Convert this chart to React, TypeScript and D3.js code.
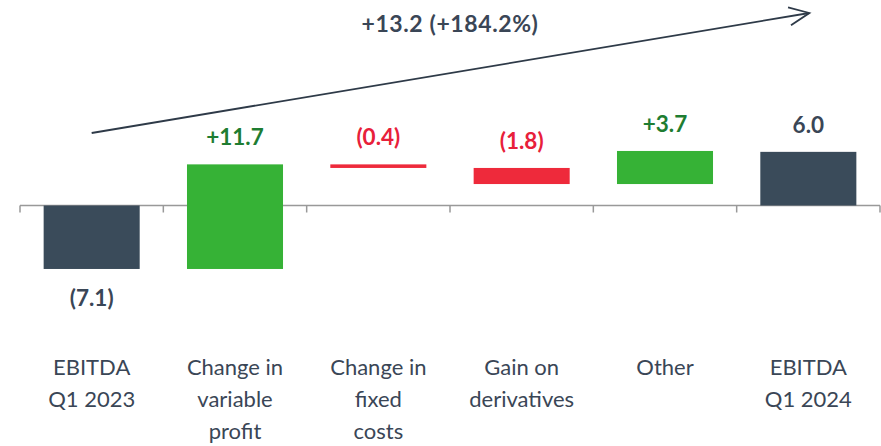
import React from "react";
import * as d3 from "d3";

const categories: string[][] = [
  ["EBITDA", "Q1 2023"],
  ["Change in", "variable", "profit"],
  ["Change in", "fixed", "costs"],
  ["Gain on", "derivatives"],
  ["Other"],
  ["EBITDA", "Q1 2024"],
];
const values: number[] = [-7.1, 11.7, -0.4, -1.8, 3.7, 6.0];
const kinds: string[] = ["total", "delta", "delta", "delta", "delta", "total"];
const valueLabels: string[] = ["(7.1)", "+11.7", "(0.4)", "(1.8)", "+3.7", "6.0"];
const changeLabel = "+13.2 (+184.2%)";

const W = 881;
const H = 446;
const DARK = "#3A4B5A";
const GREEN = "#36B236";
const RED = "#EE2A3B";
const GREEN_TXT = "#1E7D32";
const RED_TXT = "#E8203A";
const TXT = "#3A4656";
const FONT = "Lato, 'Open Sans', sans-serif";

export default function App() {
  const x = d3
    .scaleBand<number>()
    .domain(values.map((_, i) => i))
    .range([20, 880])
    .paddingInner(0.33)
    .paddingOuter(0.165);
  const y = d3
    .scaleLinear()
    .domain([-10, 15])
    .range([205.5 + 10 * 8.94, 205.5 - 15 * 8.94]);

  let cum = 0;
  const bars = values.map((v, i) => {
    let y0: number, y1: number;
    if (kinds[i] === "total") {
      y0 = 0;
      y1 = v;
      cum = v;
    } else {
      y0 = cum;
      y1 = cum + v;
      cum = y1;
    }
    const color = kinds[i] === "total" ? DARK : v >= 0 ? GREEN : RED;
    const txtColor = kinds[i] === "total" ? TXT : v >= 0 ? GREEN_TXT : RED_TXT;
    return { i, v, y0, y1, color, txtColor };
  });

  const tickXs = d3.range(values.length + 1).map((k) => 20 + k * (860 / values.length));

  const ax0 = x(0)! + x.bandwidth() / 2;
  const ax1 = x(values.length - 1)! + x.bandwidth() / 2;
  const arrowStart: [number, number] = [ax0, 133];
  const arrowEnd: [number, number] = [ax1 + 1, 13];
  const ang = Math.atan2(arrowEnd[1] - arrowStart[1], arrowEnd[0] - arrowStart[0]);
  const hl = 22;
  const ha = 0.42;
  const head1: [number, number] = [
    arrowEnd[0] - hl * Math.cos(ang - ha),
    arrowEnd[1] - hl * Math.sin(ang - ha),
  ];
  const head2: [number, number] = [
    arrowEnd[0] - hl * Math.cos(ang + ha),
    arrowEnd[1] - hl * Math.sin(ang + ha),
  ];

  return (
    <svg
      width={W}
      height={H}
      style={{ position: "absolute", left: 0, top: 0, background: "#fff" }}
      fontFamily={FONT}
    >
      <line x1={20} x2={880} y1={y(0)} y2={y(0)} stroke="#999" strokeWidth={1.5} />
      {tickXs.map((tx, k) => (
        <line key={k} x1={tx} x2={tx} y1={y(0)} y2={y(0) + 7} stroke="#999" strokeWidth={1.5} />
      ))}

      {bars.map((b) => {
        const top = y(Math.max(b.y0, b.y1));
        const bottom = y(Math.min(b.y0, b.y1));
        const bx = x(b.i)!;
        const neg = kinds[b.i] === "total" && b.v < 0;
        return (
          <g key={b.i}>
            <rect
              x={bx}
              y={top}
              width={x.bandwidth()}
              height={Math.max(bottom - top, 2.5)}
              fill={b.color}
            />
            <text
              x={bx + x.bandwidth() / 2}
              y={neg ? bottom + 37.5 : top - 19}
              textAnchor="middle"
              fontSize={22.5}
              fontWeight={700}
              fill={b.txtColor}
            >
              {valueLabels[b.i]}
            </text>
          </g>
        );
      })}

      {categories.map((lines, i) => (
        <text key={i} textAnchor="middle" fontSize={22} fill={TXT}>
          {lines.map((ln, j) => (
            <tspan key={j} x={x(i)! + x.bandwidth() / 2} y={375 + j * 32}>
              {ln}
            </tspan>
          ))}
        </text>
      ))}

      <line
        x1={arrowStart[0]}
        y1={arrowStart[1]}
        x2={arrowEnd[0]}
        y2={arrowEnd[1]}
        stroke="#2E3A48"
        strokeWidth={1.8}
      />
      <polyline
        points={`${head1[0]},${head1[1]} ${arrowEnd[0]},${arrowEnd[1]} ${head2[0]},${head2[1]}`}
        fill="none"
        stroke="#2E3A48"
        strokeWidth={1.8}
      />
      <text
        x={450}
        y={32}
        textAnchor="middle"
        fontSize={23}
        fontWeight={700}
        letterSpacing={0.6}
        fill={TXT}
      >
        {changeLabel}
      </text>
    </svg>
  );
}
